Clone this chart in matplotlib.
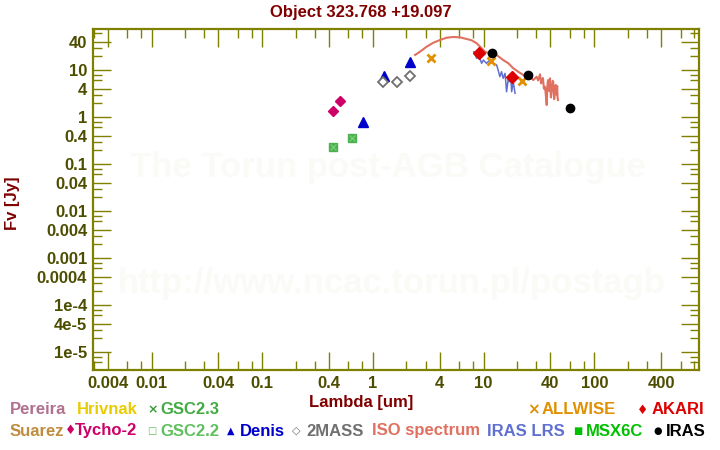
import matplotlib
matplotlib.use("Agg")
import matplotlib.pyplot as plt
from matplotlib.ticker import FixedLocator, FixedFormatter, NullFormatter

plt.rcParams['font.family'] = ['Liberation Sans', 'DejaVu Sans']
plt.rcParams['font.weight'] = 'bold'

# ---------------- data ----------------
title = "Object 323.768 +19.097"

tycho_wl = [0.44, 0.50]
tycho_fx = [1.34, 2.19]

gsc22_wl = [0.435, 0.646]
gsc22_fx = [0.23, 0.357]
gsc23_wl = [0.435, 0.646]
gsc23_fx = [0.23, 0.357]

denis_wl = [0.81, 1.25, 2.16]
denis_fx = [0.79, 7.6, 14.6]

tmass_wl = [1.24, 1.66, 2.17]
tmass_fx = [5.64, 5.47, 7.35]

allwise_wl = [3.36, 11.6, 22.3]
allwise_fx = [17.7, 15.3, 5.75]

akari_wl = [9.1, 18.1]
akari_fx = [22.7, 7.2]

iras_wl = [12.0, 25.0, 60.0]
iras_fx = [22.7, 7.7, 1.53]

iso_wl = [2.40, 2.66, 3.05, 3.51, 4.03, 4.63, 5.31, 6.11, 7.02, 7.79, 8.65,
          9.59, 10.27, 11.4, 13.1, 15.0, 16.7, 18.5, 20.5, 22.8, 24.0, 25.3,
          26.5, 28.1, 29.0, 30.1, 31.0, 32.3, 33.0, 33.4, 34.3, 35.0, 35.8,
          36.4, 37.1, 37.6, 38.1, 39.0, 39.7, 40.5, 41.4, 42.0, 42.5, 43.3,
          44.1, 44.8, 45.7, 46.1, 46.5, 46.9]
iso_fx = [20.9, 24.5, 31.3, 38.1, 43.5, 48.7, 50.4, 49.6, 45.7, 42.9, 37.0,
          29.0, 24.5, 22.4, 20.9, 16.3, 13.9, 10.9, 9.2, 7.83, 7.0, 6.66,
          6.9, 6.12, 6.6, 7.2, 6.0, 8.1, 5.2, 5.64, 6.76, 4.0, 4.41, 3.0,
          1.8, 4.5, 6.1, 3.6, 6.66, 2.6, 4.14, 5.9, 5.64, 2.4, 3.45, 4.8,
          2.94, 4.57, 2.6, 2.3]

lrs_wl = [8.17, 8.65, 8.94, 9.59, 9.92, 10.6, 11.4, 12.2, 13.1, 13.5, 14.0,
          14.5, 15.0, 15.6, 16.1, 16.7, 17.0, 17.5, 17.9, 18.5, 19.2]
lrs_fx = [24.5, 17.7, 20.9, 13.9, 16.3, 13.9, 16.3, 13.9, 12.8, 10.0, 7.2,
          9.2, 6.66, 8.5, 3.45, 6.66, 5.64, 7.83, 3.45, 5.64, 3.19]

x_major = [0.004, 0.01, 0.04, 0.1, 0.4, 1, 4, 10, 40, 100, 400]
x_labels = ["0.004", "0.01", "0.04", "0.1", "0.4", "1", "4", "10", "40", "100", "400"]
y_major = [1e-5, 4e-5, 1e-4, 4e-4, 1e-3, 4e-3, 1e-2, 4e-2, 0.1, 0.4, 1, 4, 10, 40]
y_labels = ["1e-5", "4e-5", "1e-4", "0.0004", "0.001", "0.004", "0.01", "0.04",
            "0.1", "0.4", "1", "4", "10", "40"]
minor_mult = [2, 3, 6, 8]

# ---------------- styles ----------------
AX_COL = '#808000'
LAB_COL = '#4d4d00'
RED_COL = '#800000'
WM_COL = '#fafaf7'

W, H = 720, 450
fig = plt.figure(figsize=(7.2, 4.5), dpi=100)
L, R, T, B = 92.7, 699, 29.3, 370
ax = fig.add_axes([L / W, 1 - B / H, (R - L) / W, (B - T) / H])
ax.set_xscale('log')
ax.set_yscale('log')
ax.set_xlim(0.00294, 881)
ax.set_ylim(4.14e-6, 73.5)

# watermarks
ax.text((388 - L) / (R - L), 1 - (168 - T) / (B - T), "The Torun post-AGB Catalogue",
        transform=ax.transAxes, ha='center', va='center', fontsize=25, color=WM_COL,
        fontweight='bold', zorder=0)
ax.text((392 - L) / (R - L), 1 - (283 - T) / (B - T), "http://www.ncac.torun.pl/postagb",
        transform=ax.transAxes, ha='center', va='center', fontsize=25, color=WM_COL,
        fontweight='bold', zorder=0)

# spectra
ax.plot(iso_wl, iso_fx, color='#e07060', lw=1.5, zorder=2)
ax.plot(lrs_wl, lrs_fx, color='#6070d0', lw=1.1, zorder=3)

# photometry
ax.plot(tycho_wl, tycho_fx, 'D', color='#cc0066', ms=5.5, mec='#cc0066', zorder=5)
ax.plot(gsc22_wl, gsc22_fx, 's', color='#4caf50', ms=5.8, zorder=5)
ax.plot(gsc23_wl, gsc23_fx, 'x', color='#70cc70', ms=4.5, mew=1.0, zorder=6)
ax.plot(denis_wl, denis_fx, '^', color='#0000cc', ms=6.5, zorder=5)
ax.plot(tmass_wl, tmass_fx, 'D', mfc='white', mec='#707070', mew=1.3, ms=5.0, zorder=5)
ax.plot(allwise_wl, allwise_fx, 'x', color='#e09000', ms=5.5, mew=2.0, zorder=6)
ax.plot(akari_wl, akari_fx, 'D', color='#dd0000', ms=6.0, zorder=6)
ax.plot(iras_wl, iras_fx, 'o', color='black', ms=6.0, zorder=7)

# axes styling
for sp in ax.spines.values():
    sp.set_color(AX_COL)
    sp.set_linewidth(1.6)

minor_x = [m * 10.0 ** e for e in range(-3, 3) for m in minor_mult]
minor_y = [m * 10.0 ** e for e in range(-6, 2) for m in minor_mult]
ax.xaxis.set_major_locator(FixedLocator(x_major))
ax.xaxis.set_major_formatter(FixedFormatter(x_labels))
ax.xaxis.set_minor_locator(FixedLocator(minor_x))
ax.xaxis.set_minor_formatter(NullFormatter())
ax.yaxis.set_major_locator(FixedLocator(y_major))
ax.yaxis.set_major_formatter(FixedFormatter(y_labels))
ax.yaxis.set_minor_locator(FixedLocator(minor_y))
ax.yaxis.set_minor_formatter(NullFormatter())

ax.tick_params(which='both', direction='in', top=True, right=True, color=AX_COL, width=1.0)
ax.tick_params(which='major', length=13, labelsize=12, labelcolor=LAB_COL, pad=4)
ax.tick_params(which='minor', length=6.5)
for lab in ax.get_xticklabels() + ax.get_yticklabels():
    lab.set_fontweight('bold')

# title and axis labels
fig.text(361 / W, 1 - 12 / H, title, ha='center', va='center', fontsize=12,
         fontweight='bold', color=RED_COL)
fig.text(361 / W, 1 - 403 / H, "Lambda [um]", ha='center', va='center', fontsize=12,
         fontweight='bold', color=RED_COL)
fig.text(12 / W, 1 - 203 / H, "Fv [Jy]", ha='center', va='center', fontsize=12,
         fontweight='bold', color=RED_COL, rotation=90)

# legend (text entries with small marker glyphs)
def leg(x, y, s, c, size=12):
    fig.text(x / W, 1 - y / H, s, ha='left', va='center', fontsize=size,
             fontweight='bold', color=c)

def glyph(x, y, s, c, size=7.5):
    fig.text(x / W, 1 - y / H, s, ha='left', va='center', fontsize=size,
             color=c, family=['DejaVu Sans'])

r1, r2 = 410, 431
leg(10, r1, "Pereira", '#b07090')
leg(77, r1, "Hrivnak", '#e8cc00')
glyph(147, r1, "×", '#3a9a3a', 9)
leg(160, r1, "GSC2.3", '#44aa44')
glyph(527, r1, "×", '#e09000', 11)
leg(542, r1, "ALLWISE", '#e09000')
glyph(637, r1, "♦", '#dd0000', 9)
leg(652, r1, "AKARI", '#dd0000')

leg(10, r2, "Suarez", '#c08c40')
glyph(65, r2, "♦", '#cc0066', 9)
leg(75, r2, "Tycho-2", '#cc0066')
glyph(147, r2, "□", '#60c060', 7)
leg(160, r2, "GSC2.2", '#60c060')
glyph(227, r2, "▲", '#0000cc', 7)
leg(240, r2, "Denis", '#0000cc')
glyph(292, r2, "◇", '#707070', 8)
leg(306, r2, "2MASS", '#707070')
leg(372, r2, "ISO spectrum", '#e07060')
leg(487, r2, "IRAS LRS", '#6070d0')
glyph(573, r2, "■", '#00c000', 7)
leg(586, r2, "MSX6C", '#00c000')
glyph(653, r2, "●", 'black', 7)
leg(666, r2, "IRAS", 'black')

fig.savefig("out.png", dpi=100)
